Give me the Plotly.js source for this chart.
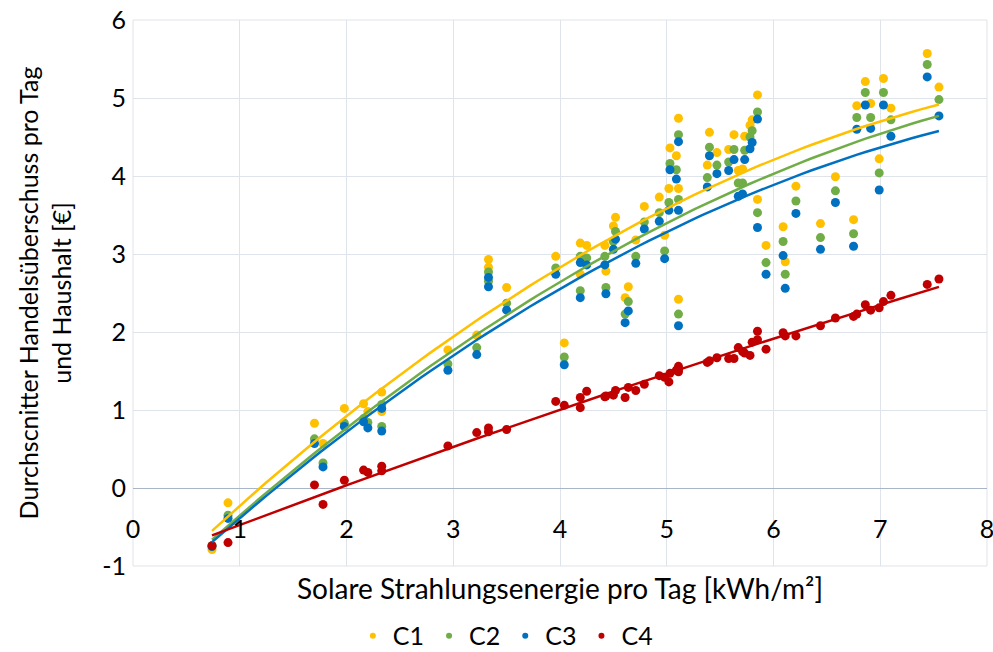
<!DOCTYPE html>
<html>
<head>
<meta charset="utf-8">
<script src="https://cdn.plot.ly/plotly-3.0.1.min.js"></script>
<style>
  html, body { margin: 0; padding: 0; background: #ffffff; }
  #chart { width: 993px; height: 652px; }
</style>
</head>
<body>
<div id="chart"></div>
<script>
// Solar radiation energy per day [kWh/m²] for each observed day
const days = [0.74, 0.89, 1.70, 1.78, 1.98, 2.16, 2.20, 2.33, 2.33, 2.95,
  3.22, 3.33, 3.33, 3.50, 3.96, 4.04, 4.19, 4.19, 4.25, 4.42,
  4.43, 4.50, 4.52, 4.61, 4.64, 4.71, 4.79, 4.93, 4.98, 5.02,
  5.03, 5.09, 5.11, 5.11, 5.11, 5.38, 5.40, 5.47, 5.58, 5.63,
  5.67, 5.71, 5.73, 5.78, 5.80, 5.85, 5.85, 5.93, 6.09, 6.11,
  6.21, 6.44, 6.58, 6.75, 6.78, 6.86, 6.91, 6.99, 7.03, 7.10,
  7.44, 7.55];

const c1 = [-0.79, -0.19, 0.83, 0.57, 1.02, 1.08, 0.98, 1.23, 0.98, 1.77,
  1.96, 2.93, 2.83, 2.57, 2.97, 1.86, 3.14, 2.74, 3.11, 3.11,
  2.78, 3.36, 3.47, 2.44, 2.58, 3.18, 3.61, 3.73, 3.24, 3.84,
  4.36, 4.26, 4.74, 3.84, 2.42, 4.14, 4.56, 4.30, 4.34, 4.53,
  4.07, 4.09, 4.51, 4.65, 4.72, 5.04, 3.70, 3.11, 3.35, 2.90,
  3.87, 3.39, 3.99, 3.44, 4.90, 5.21, 4.93, 4.22, 5.25, 4.87,
  5.57, 5.14];

const c2 = [-0.74, -0.35, 0.63, 0.32, 0.83, 0.89, 0.84, 1.07, 0.79, 1.59,
  1.80, 2.77, 2.65, 2.37, 2.82, 1.68, 2.97, 2.53, 2.95, 2.97,
  2.57, 3.16, 3.29, 2.23, 2.39, 2.97, 3.41, 3.53, 3.04, 3.66,
  4.16, 4.08, 4.53, 3.70, 2.23, 3.98, 4.37, 4.14, 4.18, 4.34,
  3.91, 3.91, 4.33, 4.50, 4.58, 4.82, 3.53, 2.89, 3.16, 2.74,
  3.68, 3.21, 3.81, 3.26, 4.75, 5.07, 4.75, 4.04, 5.07, 4.72,
  5.43, 4.98];

const c3 = [-0.75, -0.39, 0.57, 0.27, 0.79, 0.85, 0.77, 1.02, 0.73, 1.51,
  1.71, 2.70, 2.58, 2.28, 2.74, 1.58, 2.89, 2.44, 2.86, 2.86,
  2.49, 3.06, 3.19, 2.12, 2.27, 2.88, 3.32, 3.42, 2.94, 3.56,
  4.08, 3.96, 4.44, 3.56, 2.08, 3.86, 4.26, 4.03, 4.07, 4.21,
  3.74, 3.77, 4.21, 4.35, 4.43, 4.73, 3.34, 2.74, 2.98, 2.56,
  3.52, 3.06, 3.66, 3.10, 4.60, 4.91, 4.61, 3.82, 4.91, 4.51,
  5.27, 4.77];

const c4 = [-0.74, -0.70, 0.04, -0.21, 0.10, 0.23, 0.20, 0.28, 0.22, 0.54,
  0.71, 0.77, 0.72, 0.75, 1.11, 1.06, 1.16, 1.03, 1.24, 1.17,
  1.18, 1.19, 1.25, 1.16, 1.29, 1.25, 1.33, 1.44, 1.42, 1.36,
  1.47, 1.51, 1.56, 1.49, 1.52, 1.61, 1.63, 1.67, 1.66, 1.66,
  1.80, 1.75, 1.73, 1.70, 1.87, 2.01, 1.90, 1.78, 1.99, 1.95,
  1.95, 2.08, 2.18, 2.20, 2.23, 2.35, 2.28, 2.31, 2.39, 2.47,
  2.61, 2.68];

const seriesNames = ['C1', 'C2', 'C3', 'C4'];
const seriesValues = [c1, c2, c3, c4];
const seriesColors = ['#FFC000', '#70AD47', '#0070C0', '#C00000'];

const xTickVals = [0, 1, 2, 3, 4, 5, 6, 7, 8];
const yTickVals = [-1, 0, 1, 2, 3, 4, 5, 6];

const xTitle = 'Solare Strahlungsenergie pro Tag [kWh/m²]';
const yTitle = 'Durchscnitter Handelsüberschuss pro Tag<br>und Haushalt [€]';

// Second-order polynomial trend line (least squares), like a spreadsheet trend line
function polyFit2(xs, ys) {
  let s0 = 0, s1 = 0, s2 = 0, s3 = 0, s4 = 0, t0 = 0, t1 = 0, t2 = 0;
  for (let i = 0; i < xs.length; i++) {
    const x = xs[i], y = ys[i];
    s0 += 1; s1 += x; s2 += x * x; s3 += x * x * x; s4 += x * x * x * x;
    t0 += y; t1 += x * y; t2 += x * x * y;
  }
  const M = [[s0, s1, s2, t0], [s1, s2, s3, t1], [s2, s3, s4, t2]];
  for (let c = 0; c < 3; c++) {
    let p = c;
    for (let r = c + 1; r < 3; r++) if (Math.abs(M[r][c]) > Math.abs(M[p][c])) p = r;
    [M[c], M[p]] = [M[p], M[c]];
    for (let r = 0; r < 3; r++) {
      if (r === c) continue;
      const f = M[r][c] / M[c][c];
      for (let k = c; k < 4; k++) M[r][k] -= f * M[c][k];
    }
  }
  return [M[0][3] / M[0][0], M[1][3] / M[1][1], M[2][3] / M[2][2]];
}

const xMin = Math.min(...days), xMax = Math.max(...days);
const nSamp = 80;
const trendX = [];
for (let i = 0; i <= nSamp; i++) trendX.push(xMin + (xMax - xMin) * i / nSamp);

const FONT = 'Lato, Carlito, Calibri, "Open Sans", sans-serif';
const GRID = '#dfe3ea';
const traces = [];

seriesValues.forEach((vals, i) => {
  traces.push({
    type: 'scatter', mode: 'markers', name: seriesNames[i],
    x: days, y: vals, showlegend: false,
    marker: { color: seriesColors[i], size: 9 },
    cliponaxis: false
  });
});
seriesValues.forEach((vals, i) => {
  const co = polyFit2(days, vals);
  traces.push({
    type: 'scatter', mode: 'lines', name: 'Trend ' + seriesNames[i],
    x: trendX, y: trendX.map(x => co[0] + co[1] * x + co[2] * x * x),
    showlegend: false,
    line: { color: seriesColors[i], width: 2.5 }
  });
});
// legend entries (small round markers, as in the original)
seriesNames.forEach((n, i) => {
  traces.push({
    type: 'scatter', mode: 'markers', name: n,
    x: [null], y: [null], showlegend: true,
    marker: { color: seriesColors[i], size: 6 }
  });
});

const layout = {
  width: 993, height: 652,
  margin: { l: 133, r: 6, t: 20, b: 86, autoexpand: false },
  paper_bgcolor: '#ffffff', plot_bgcolor: '#ffffff',
  font: { family: FONT, size: 25, color: '#000000' },
  showlegend: true,
  legend: {
    orientation: 'h', x: 0.436, xanchor: 'center', y: -0.128, yanchor: 'middle',
    font: { family: FONT, size: 25, color: '#000000' },
    itemwidth: 30, tracegroupgap: 0
  },
  shapes: [{
    type: 'rect', xref: 'paper', yref: 'paper', x0: 0, x1: 1, y0: 0, y1: 1,
    line: { color: GRID, width: 1 }, fillcolor: 'rgba(0,0,0,0)', layer: 'below'
  }],
  xaxis: {
    range: [0, 8], tickvals: xTickVals, ticktext: xTickVals.map(String),
    anchor: 'free', position: 1 / 7, automargin: false,
    showgrid: true, gridcolor: GRID, gridwidth: 1,
    zeroline: false, showline: false, ticks: '',
    ticklabelstandoff: 24, ticklabeloverflow: 'allow',
    tickfont: { family: FONT, size: 25, color: '#000000' },
    title: { text: xTitle, font: { family: FONT, size: 28, color: '#000000' }, standoff: 37 }
  },
  yaxis: {
    range: [-1, 6], tickvals: yTickVals, ticktext: yTickVals.map(String),
    automargin: false,
    showgrid: true, gridcolor: GRID, gridwidth: 1,
    zeroline: true, zerolinecolor: '#a9b6c8', zerolinewidth: 1,
    showline: false, ticks: '',
    ticklabelstandoff: 6,
    tickfont: { family: FONT, size: 25, color: '#000000' },
    title: { text: yTitle, font: { family: FONT, size: 25, color: '#000000' }, standoff: 23 }
  }
};

Plotly.newPlot('chart', traces, layout, { staticPlot: true, displayModeBar: false });
</script>
</body>
</html>
